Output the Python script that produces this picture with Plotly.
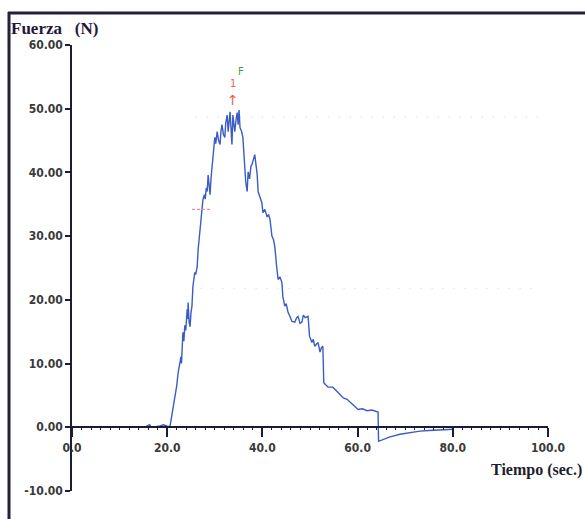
import plotly.graph_objects as go

# --- data ---
tiempo = [0, 5, 10, 14, 15.5, 16.3, 16.6, 17.5, 18.5, 19.2, 19.8, 20.3, 20.6, 21.0, 21.6, 22.0, 22.3, 22.6,
          22.9, 23.0, 23.1, 23.2, 23.3, 23.5, 23.7, 23.9, 24.0, 24.2, 24.3, 24.4, 24.6, 24.8, 25.0, 25.2,
          25.4, 25.6, 25.8, 26.0, 26.3, 26.5, 26.7, 26.9, 27.1, 27.3, 27.5, 27.8, 28.0, 28.2, 28.4, 28.6,
          28.8, 29.0, 29.2, 29.4, 29.6, 29.8, 30.0, 30.2, 30.5, 30.8, 31.1, 31.3, 31.5, 31.8, 32.1, 32.3,
          32.6, 32.8, 33.0, 33.2, 33.4, 33.6, 33.8, 34.0, 34.2, 34.5, 34.7, 34.9, 35.1, 35.3, 35.6, 35.9,
          36.1, 36.3, 36.5, 36.8, 37.0, 37.3, 37.6, 37.8, 38.1, 38.4, 38.6, 38.9, 39.1, 39.4, 39.9, 40.1,
          40.5, 41.0, 41.3, 41.6, 42.0, 42.3, 42.6, 43.0, 43.3, 43.7, 44.1, 44.3, 44.7, 45.0, 45.4, 45.8,
          46.2, 46.8, 47.2, 47.5, 47.9, 48.3, 48.6, 49.0, 49.6, 49.9, 50.4, 50.7, 51.0, 51.3, 51.7, 52.1,
          52.4, 52.7, 52.9, 53.4, 53.8, 54.8, 55.5, 56.2, 57.0, 57.8, 58.6, 59.4, 60.1, 61.0, 62.0, 63.0,
          64.1, 64.3, 64.4, 65.5, 66.8, 68.9, 71.0, 73.1, 75.0, 77.0, 79.0, 80.0]
fuerza = [0, 0, 0, 0, 0.1, 0.4, 0.1, 0.1, 0.2, 0.4, 0.3, 0.1, 0.2, 2.0, 4.4, 6.5, 8.6, 9.8,
          11.1, 10.0, 13.3, 12.0, 14.9, 13.5, 16.0, 15.2, 17.5, 18.5, 17.0, 19.6, 16.5, 15.8, 18.0, 19.0,
          22.1, 23.0, 24.3, 24.0, 25.2, 27.9, 29.5, 31.5, 33.0, 34.2, 35.7, 36.5, 35.8, 37.6, 37.0, 39.6,
          38.0, 36.5, 39.0, 40.5, 41.7, 43.5, 45.5, 44.5, 46.4, 45.0, 44.4, 46.5, 47.5, 46.0, 45.5, 47.8,
          49.0, 46.4, 48.0, 49.5, 47.0, 44.4, 49.0, 48.0, 46.4, 48.5, 49.4, 47.5, 49.8, 47.0, 46.5, 45.5,
          43.0, 40.1, 38.5, 37.0, 40.1, 39.0, 41.0, 41.2, 42.0, 42.8, 41.5, 39.7, 37.0, 36.4, 35.2, 33.7,
          34.2, 33.0, 33.4, 32.6, 30.0, 29.5, 28.4, 25.2, 23.2, 23.6, 22.7, 20.5, 19.0, 19.4, 18.0, 17.4,
          16.6, 16.5, 17.2, 17.4, 16.3, 16.5, 17.6, 17.2, 17.4, 14.3, 13.3, 13.8, 12.7, 13.0, 13.3, 11.8,
          12.5, 12.7, 7.0, 6.6, 6.3, 6.3, 5.8, 5.3, 4.6, 4.4, 3.8, 3.3, 2.8, 2.9, 2.6, 2.7,
          2.5, 2.4, -2.2, -1.9, -1.5, -1.1, -0.8, -0.6, -0.5, -0.4, -0.3, -0.3]

x_ticks = [0, 20, 40, 60, 80, 100]
x_labels = ["0.0", "20.0", "40.0", "60.0", "80.0", "100.0"]
y_ticks = [-10, 0, 10, 20, 30, 40, 50, 60]
y_labels = ["-10.00", "0.00", "10.00", "20.00", "30.00", "40.00", "50.00", "60.00"]

marca_t = [25.2, 29.0]          # short red dashed marker
marca_f = [34.2, 34.2]
ref_lvl_hi = [48.7, 48.7]       # faint dotted reference levels
ref_t_hi = [26.0, 100.0]
ref_lvl_lo = [21.8, 21.8]
ref_t_lo = [27.0, 97.0]

axis_col = "#1c1c34"
lab_font = dict(family="DejaVu Sans Condensed, Liberation Sans Narrow, Arial Narrow, sans-serif",
                size=12, color="#3a3a3a", weight="bold")

fig = go.Figure()
fig.add_trace(go.Scatter(x=ref_t_hi, y=ref_lvl_hi, mode="lines",
                         line=dict(color="#d2d2d2", width=1, dash="1px,10px"), hoverinfo="skip"))
fig.add_trace(go.Scatter(x=ref_t_lo, y=ref_lvl_lo, mode="lines",
                         line=dict(color="#d2d2d2", width=1, dash="1px,10px"), hoverinfo="skip"))
fig.add_trace(go.Scatter(x=tiempo, y=fuerza, mode="lines",
                         line=dict(color="#3a5cc4", width=1.4)))
fig.add_trace(go.Scatter(x=marca_t, y=marca_f, mode="lines",
                         line=dict(color="#ee8c9c", width=1.2, dash="3px,2px"), hoverinfo="skip"))

# peak markers derived from the data
imax = fuerza.index(max(fuerza))
t_pk = tiempo[imax] - 1.3
f_pk = fuerza[imax]
fig.add_annotation(x=t_pk, y=f_pk + 1.6, text="↑", showarrow=False,
                   font=dict(family="DejaVu Sans", size=14, color="#f06040"))
fig.add_annotation(x=t_pk, y=f_pk + 4.2, text="1", showarrow=False,
                   font=dict(family="DejaVu Sans Condensed", size=11, color="#f06040"))
fig.add_annotation(x=t_pk + 1.6, y=f_pk + 6.0, text="F", showarrow=False,
                   font=dict(family="DejaVu Sans Condensed", size=11, color="#40a040"))

W, H = 585, 519
L, R, T, B = 72, 37, 45, 28
pw, ph = W - L - R, H - T - B

def px(xp):
    return (xp - L) / pw

def py(yp):
    return (H - B - yp) / ph

fig.add_annotation(xref="paper", yref="paper", x=px(9), y=py(28), xanchor="left", yanchor="middle",
                   text="Fuerza\u00a0\u00a0\u00a0(N)", showarrow=False,
                   font=dict(family="Liberation Serif, Times New Roman, serif", size=17,
                             color="#24183a", weight="bold"))
fig.add_annotation(xref="paper", yref="paper", x=px(584), y=py(470), xanchor="right", yanchor="middle",
                   text="Tiempo (sec.)", showarrow=False,
                   font=dict(family="Liberation Serif, Times New Roman, serif", size=16,
                             color="#1e1e2a", weight="bold"))

# outer frame (left and top edges)
fig.add_shape(type="line", xref="paper", yref="paper", x0=px(9), x1=px(9), y0=py(12), y1=py(525),
              line=dict(color="#22203a", width=3))
fig.add_shape(type="line", xref="paper", yref="paper", x0=px(8), x1=px(590), y0=py(13), y1=py(13),
              line=dict(color="#22203a", width=3))

fig.update_layout(
    width=W, height=H, margin=dict(l=L, r=R, t=T, b=B),
    paper_bgcolor="white", plot_bgcolor="white", showlegend=False,
    xaxis=dict(range=[0, 100], tickvals=x_ticks, ticktext=x_labels, showgrid=False, zeroline=False,
               showline=True, linecolor=axis_col, linewidth=2, ticks="outside", ticklen=9,
               tickcolor=axis_col, tickwidth=2, tickfont=lab_font, anchor="free", position=10 / 70,
               minor=dict(ticks="outside", ticklen=2, dtick=2, tickcolor=axis_col, tickwidth=1)),
    yaxis=dict(range=[-10, 60], tickvals=y_ticks, ticktext=y_labels, showgrid=False, zeroline=False,
               showline=True, linecolor=axis_col, linewidth=1.5, ticks="outside", ticklen=5,
               tickcolor=axis_col, tickwidth=1.5, tickfont=lab_font),
)

fig.write_html("out.html")
